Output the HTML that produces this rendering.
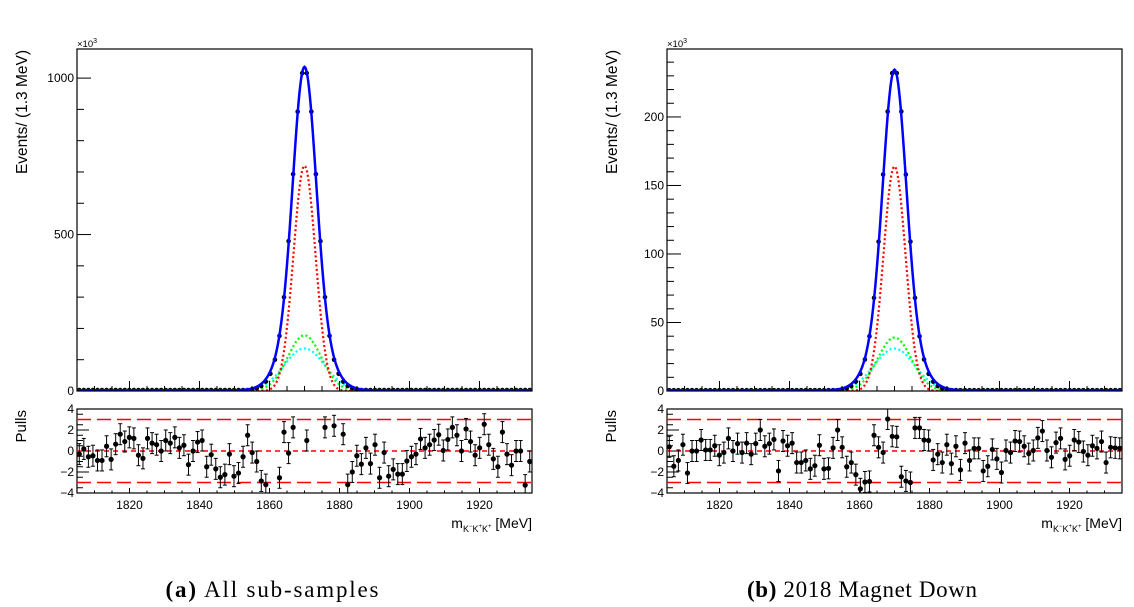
<!DOCTYPE html>
<html><head><meta charset="utf-8">
<style>
html,body{margin:0;padding:0;background:#fff;}
svg{display:block;}
text{font-family:"Liberation Sans",sans-serif;}
.cap{font-family:"Liberation Serif",serif;font-size:23px;}
</style></head>
<body>
<svg id="chart" width="1134" height="607" viewBox="0 0 1134 607" xmlns="http://www.w3.org/2000/svg"></svg>
<script>
// ---- data ----
const xMin = 1805, xMax = 1935, binW = 1.3;
const xTickLabels = [1820, 1840, 1860, 1880, 1900, 1920];
const pullTickLabels = [4, 2, 0, -2, -4];
const leftYTicks = [0, 500, 1000];
const rightYTicks = [0, 50, 100, 150, 200];
// upper-plot data counts (left in units of 10^3)
const leftData = [3,3,3,3,3,3,3,3,3,3,3,3,3,3,3,3,3,3,3,3,3,3,3,3,3,3,3,3,3,3,3,3,3,3,3,3,3,3,
  6,9,16,30,55,100,176,300,479,693,893,1016,1016,893,693,479,300,176,100,55,30,16,9,6,
  3,3,3,3,3,3,3,3,3,3,3,3,3,3,3,3,3,3,3,3,3,3,3,3,3,3,3,3,3,3,3,3,3,3,3,3,3,3];
const rightData = [0.6,0.6,0.6,0.6,0.6,0.6,0.6,0.6,0.6,0.6,0.6,0.6,0.6,0.6,0.6,0.6,0.6,0.6,0.6,0.6,0.6,0.6,0.6,0.6,0.6,0.6,0.6,0.6,0.6,0.6,0.6,0.6,0.6,0.6,0.6,0.6,0.6,0.6,
  1.4,2.0,3.6,6.8,12.5,23,40,68,109,158,204,232,232,204,158,109,68,40,23,12.5,6.8,3.6,2.0,1.4,
  0.6,0.6,0.6,0.6,0.6,0.6,0.6,0.6,0.6,0.6,0.6,0.6,0.6,0.6,0.6,0.6,0.6,0.6,0.6,0.6,0.6,0.6,0.6,0.6,0.6,0.6,0.6,0.6,0.6,0.6,0.6,0.6,0.6,0.6,0.6,0.6,0.6,0.6];
// fit components: red, green, cyan
const peakMean = 1870.0;
const compSigma = [3.15, 4.8, 5.8];
const leftAmp = [720, 178, 136];
const rightAmp = [164, 39, 31];
const leftBkg = 2, rightBkg = 0.5;
const leftPulls = [-0.3,0.2,-0.55,-0.45,-0.9,-0.9,0.45,-0.8,0.65,1.6,0.9,1.3,1.2,-0.4,-0.7,1.2,0.75,0.6,0,1.0,
  0.75,1.3,0.3,0.55,-1.3,0,0.85,1.0,-1.5,-0.35,-1.7,-2.5,-2.25,-0.3,-2.4,-2.1,-0.55,1.5,-0.15,-1.0,
  -2.85,-3.2,null,null,-2.55,1.8,-0.2,2.25,null,null,1.0,null,null,null,2.25,null,2.4,null,1.6,-3.2,
  -2.0,-0.45,-1.25,0.3,-1.2,0.6,-2.55,-0.15,-2.4,-1.75,-2.2,-2.2,-0.95,-0.55,-0.3,1.15,0.3,0.6,1.05,1.55,
  0.05,1.1,2.25,1.5,0,2.1,0.9,-0.4,0.3,2.55,0.6,-0.75,-1.5,1.8,-0.3,-1.35,0,0,-3.25,-1.0];
const rightPulls = [0.4,-1.45,-0.9,0.6,-2.1,0,0,1.05,0.1,0.1,0.5,-0.4,-0.15,1.2,0,0.7,-0.15,0.75,-0.3,0.7,
  2.0,0.45,0.7,1.1,-1.9,0.95,0.5,0.75,-1.1,-1.1,-0.9,-1.7,-1.4,0.55,-1.7,-1.65,0.3,2.0,0.35,-1.5,
  -1.1,-2.25,-3.6,-2.95,-2.9,1.5,0.35,-0.15,3.05,1.4,1.35,-2.45,-2.85,-3.0,2.2,2.2,1.05,1.0,-0.85,-0.3,
  -1.1,0.6,-1.2,0.45,-1.8,0.75,-0.9,0.25,0.25,-1.9,-1.45,0.15,-0.75,-2.05,0.05,-0.15,0.95,0.9,0.45,-0.25,
  0.05,1.25,1.9,0.05,-0.6,0.8,1.2,-0.8,-0.45,1.05,0.85,-0.05,-0.4,0.5,0.25,0.9,-1.1,0.35,0.3,0.25];

const NS = 'http://www.w3.org/2000/svg';
const svg = document.getElementById('chart');
function mk(tag, attrs, parent) {
  const e = document.createElementNS(NS, tag);
  for (const k in attrs) e.setAttribute(k, attrs[k]);
  (parent || svg).appendChild(e);
  return e;
}

function drawPanel(p) {
  const L = p.x0, R = p.x0 + 455, T = 49, B = 391, PT = 409, PB = 493;
  const g = mk('g', {});
  
  
  const xs = v => L + (v - xMin) / (xMax - xMin) * (R - L);
  const ys = v => B - v / p.yMax * (B - T);
  const yp = v => PT + (4 - v) / 8 * (PB - PT);

  const clipId = 'clip' + p.id;
  const cp = mk('clipPath', {id: clipId}, g);
  mk('rect', {x: L, y: T, width: R - L, height: B - T}, cp);
  const clipId2 = 'clipp' + p.id;
  const cp2 = mk('clipPath', {id: clipId2}, g);
  mk('rect', {x: L, y: PT, width: R - L, height: PB - PT}, cp2);

  const model = (x, k) => p.amp[k] * Math.exp(-Math.pow(x - peakMean, 2) / (2 * compSigma[k] * compSigma[k]));
  const colors = ['#ff0000', '#00ff00', '#00ffff'];
  const names = ['signal-red-curve', 'signal-green-curve', 'signal-cyan-curve'];
  const cg = mk('g', {'clip-path': 'url(#' + clipId + ')'}, g);
  for (let k = 2; k >= 0; k--) {
    let d = '';
    for (let x = xMin; x <= xMax; x += 0.25) d += (d ? 'L' : 'M') + xs(x).toFixed(2) + ',' + ys(model(x, k)).toFixed(2);
    const pth = mk('path', {d: d, fill: 'none', stroke: colors[k], 'stroke-width': 2.2, 'stroke-dasharray': '2,2.5'}, cg);
    
    
  }
  p.data.forEach((v, i) => {
    const c = xMin + binW * (i + 0.5);
    const dot = mk('circle', {cx: xs(c), cy: ys(v), r: 2.3, fill: '#000'}, cg);
    
    
  });
  let dT = '';
  for (let x = xMin; x <= xMax; x += 0.25) dT += (dT ? 'L' : 'M') + xs(x).toFixed(2) + ',' + ys(model(x, 0) + model(x, 1) + model(x, 2) + p.bkg).toFixed(2);
  const tot = mk('path', {d: dT, fill: 'none', stroke: '#0000ff', 'stroke-width': 2.5}, cg);
  
  

  mk('rect', {x: L, y: T, width: R - L, height: B - T, fill: 'none', stroke: '#000', 'stroke-width': 1.2}, g);
  mk('rect', {x: L, y: PT, width: R - L, height: PB - PT, fill: 'none', stroke: '#000', 'stroke-width': 1.2}, g);

  for (let v = 1805; v <= 1935; v += 5) {
    const X = xs(v), major = (v % 20 === 0);
    const h1 = major ? 10 : 5, h2 = major ? 5 : 2.5;
    mk('line', {x1: X, x2: X, y1: B, y2: B - h1, stroke: '#000', 'stroke-width': 1}, g);
    mk('line', {x1: X, x2: X, y1: PB, y2: PB - h2, stroke: '#000', 'stroke-width': 1}, g);
  }
  xTickLabels.forEach(v => {
    const t = mk('text', {x: xs(v), y: 509, 'font-size': 12, 'text-anchor': 'middle', fill: '#000'}, g);
    t.textContent = v;
    
    
  });
  for (let v = 0; v <= p.yMax; v += p.minor) {
    const major = Math.abs(v / p.major - Math.round(v / p.major)) < 1e-6;
    mk('line', {x1: L, x2: L + (major ? 14 : 7), y1: ys(v), y2: ys(v), stroke: '#000', 'stroke-width': 1}, g);
  }
  p.yTicks.forEach(v => {
    const t = mk('text', {x: L - 3, y: ys(v) + 4, 'font-size': 12, 'text-anchor': 'end', fill: '#000'}, g);
    t.textContent = v;
    
    
  });
  const ex = mk('text', {x: L, y: 47, 'font-size': 9.5, fill: '#000'}, g);
  ex.innerHTML = '×10<tspan dy="-4" font-size="7">3</tspan>';
  
  
  for (let v = -4; v <= 4; v += 0.5) {
    const major = (v % 2 === 0);
    mk('line', {x1: L, x2: L + (major ? 12 : 6), y1: yp(v), y2: yp(v), stroke: '#000', 'stroke-width': 1}, g);
  }
  pullTickLabels.forEach(v => {
    const t = mk('text', {x: L - 3, y: yp(v) + 4, 'font-size': 12, 'text-anchor': 'end', fill: '#000'}, g);
    t.textContent = v < 0 ? '\u2212' + (-v) : v;
    
    
  });
  [[3, '14,6'], [-3, '14,6'], [0, '5,4']].forEach(([v, da]) => {
    const ln = mk('line', {x1: L, x2: R, y1: yp(v), y2: yp(v), stroke: '#ff0000', 'stroke-width': 1.6, 'stroke-dasharray': da}, g);
    
    
  });
  const pg = mk('g', {'clip-path': 'url(#' + clipId2 + ')'}, g);
  p.pulls.forEach((v, i) => {
    if (v === null) return;
    const X = xs(xMin + binW * (i + 0.5));
    mk('line', {x1: X, x2: X, y1: yp(v + 1), y2: yp(v - 1), stroke: '#000', 'stroke-width': 1}, pg);
    mk('line', {x1: X - 2, x2: X + 2, y1: yp(v + 1), y2: yp(v + 1), stroke: '#000', 'stroke-width': 1}, pg);
    mk('line', {x1: X - 2, x2: X + 2, y1: yp(v - 1), y2: yp(v - 1), stroke: '#000', 'stroke-width': 1}, pg);
    const dot = mk('circle', {cx: X, cy: yp(v), r: 2.6, fill: '#000'}, pg);
    
    
  });
  const yt = mk('text', {x: 0, y: 0, 'font-size': 15.5, 'text-anchor': 'end', fill: '#000', transform: 'translate(' + (L - 50) + ',50) rotate(-90)'}, g);
  yt.textContent = 'Events/ (1.3 MeV)';
  
  
  const pt = mk('text', {x: 0, y: 0, 'font-size': 15, 'text-anchor': 'end', fill: '#000', transform: 'translate(' + (L - 51) + ',410) rotate(-90)'}, g);
  pt.textContent = 'Pulls';
  
  
  const xt = mk('text', {x: R, y: 528, 'font-size': 14, 'text-anchor': 'end', fill: '#000'}, g);
  xt.innerHTML = 'm<tspan dy="4" font-size="9">K<tspan dy="-4" font-size="6">−</tspan><tspan dy="4">K</tspan><tspan dy="-4" font-size="6">+</tspan><tspan dy="4">K</tspan><tspan dy="-4" font-size="6">+</tspan></tspan><tspan dy="0"> [MeV]</tspan>';
  
  
  const cap = mk('text', {x: p.capX, y: 597, 'text-anchor': 'middle', fill: '#000', class: 'cap', textLength: p.capW, lengthAdjust: 'spacing'}, svg);
  cap.innerHTML = '<tspan font-weight="bold">(' + p.id + ')</tspan> ' + p.caption;
  
  
}

drawPanel({id: 'a', name: 'panel-all-subsamples', x0: 77, yMax: 1093, major: 500, minor: 100, yTicks: leftYTicks,
  data: leftData, amp: leftAmp, bkg: leftBkg, pulls: leftPulls, capX: 272, capW: 213, caption: 'All sub-samples'});
drawPanel({id: 'b', name: 'panel-2018-magnet-down', x0: 667, yMax: 249.6, major: 50, minor: 10, yTicks: rightYTicks,
  data: rightData, amp: rightAmp, bkg: rightBkg, pulls: rightPulls, capX: 862, capW: 230, caption: '2018 Magnet Down'});
</script>
</body></html>
